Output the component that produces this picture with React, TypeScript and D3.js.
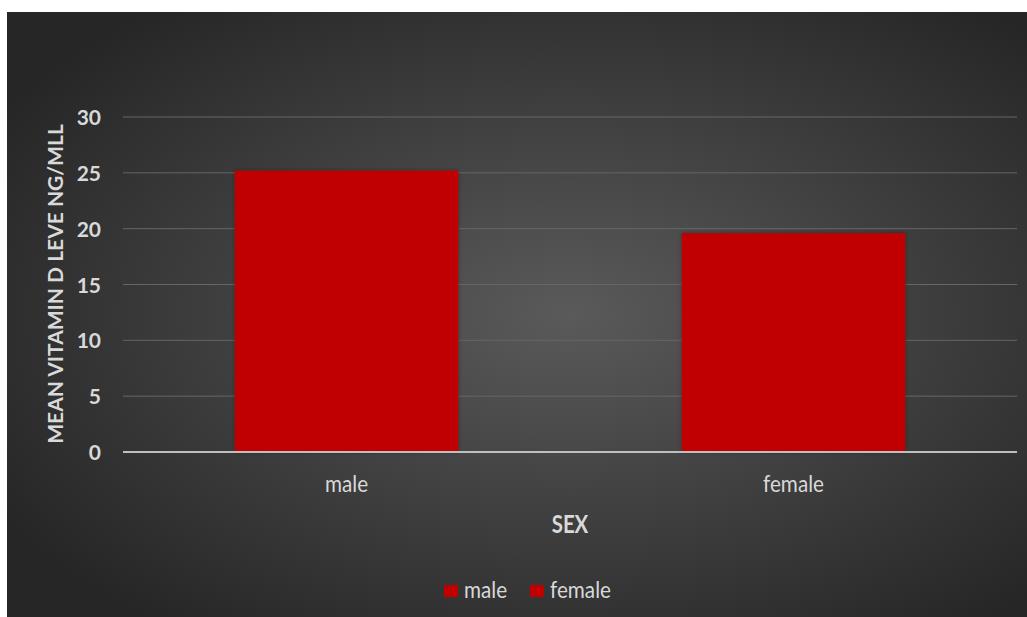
import React from "react";
import * as d3 from "d3";

const categories = ["male", "female"];
const values = [25.2, 19.6];
const yTicks = [0, 5, 10, 15, 20, 25, 30];
const legendItems = ["male", "female"];

const W = 1027;
const H = 617;
const FONT = "Lato, 'Open Sans', sans-serif";
const TXT = "#d9d9d9";

function Txt({ x, y, anchor = "middle", size, bold = false, sx = 1, rotate = 0, children }: any) {
  return (
    <text
      transform={`translate(${x},${y}) rotate(${rotate}) scale(${sx},1)`}
      textAnchor={anchor}
      fill={TXT}
      fontFamily={FONT}
      fontWeight={bold ? "bold" : "normal"}
      fontSize={size}
    >
      {children}
    </text>
  );
}

export default function App() {
  const x = d3.scaleBand<string>().domain(categories).range([123, 1017]).paddingInner(0.5).paddingOuter(0.25);
  const y = d3.scaleLinear().domain([0, 30]).range([452, 117]);
  const bw = x.bandwidth();
  const legendX = [444, 530];
  return (
    <svg width={W} height={H} style={{ position: "absolute", left: 0, top: 0 }}>
      <defs>
        <radialGradient id="bg" cx="0.55" cy="0.5" r="0.65">
          <stop offset="0" stopColor="#5a5a5a" />
          <stop offset="1" stopColor="#262626" />
        </radialGradient>
        <filter id="sh" x="-10%" y="-10%" width="120%" height="120%">
          <feDropShadow dx="0" dy="0" stdDeviation="2" floodColor="#000" floodOpacity="0.35" />
        </filter>
      </defs>
      <rect x={0} y={0} width={W} height={H} fill="#fff" />
      <rect x={7} y={12} width={W - 7} height={H - 12} fill="url(#bg)" />
      {yTicks.map((t) => (
        <g key={t}>
          {t > 0 && <line x1={123} x2={1017} y1={y(t)} y2={y(t)} stroke="#666" strokeWidth={1} />}
          <Txt x={101} y={y(t) + 8} anchor="end" size={21} bold>
            {t}
          </Txt>
        </g>
      ))}
      {categories.map((c, i) => (
        <rect key={c} x={x(c)} y={y(values[i])} width={bw} height={y(0) - y(values[i])} fill="#c00000" filter="url(#sh)" />
      ))}
      <line x1={123} x2={1017} y1={y(0)} y2={y(0)} stroke="#bfbfbf" strokeWidth={2} />
      {categories.map((c) => (
        <Txt key={c} x={(x(c) as number) + bw / 2} y={492} size={23} sx={0.9}>
          {c}
        </Txt>
      ))}
      <Txt x={570} y={533} size={24} bold sx={0.85}>
        SEX
      </Txt>
      <Txt x={63} y={284} size={21} bold rotate={-90}>
        MEAN VITAMIN D LEVE NG/MLL
      </Txt>
      {legendItems.map((l, i) => (
        <g key={l}>
          <rect x={legendX[i]} y={585} width={14} height={12} fill="#c00000" />
          <Txt x={legendX[i] + 20} y={598} anchor="start" size={23} sx={0.9}>
            {l}
          </Txt>
        </g>
      ))}
    </svg>
  );
}
